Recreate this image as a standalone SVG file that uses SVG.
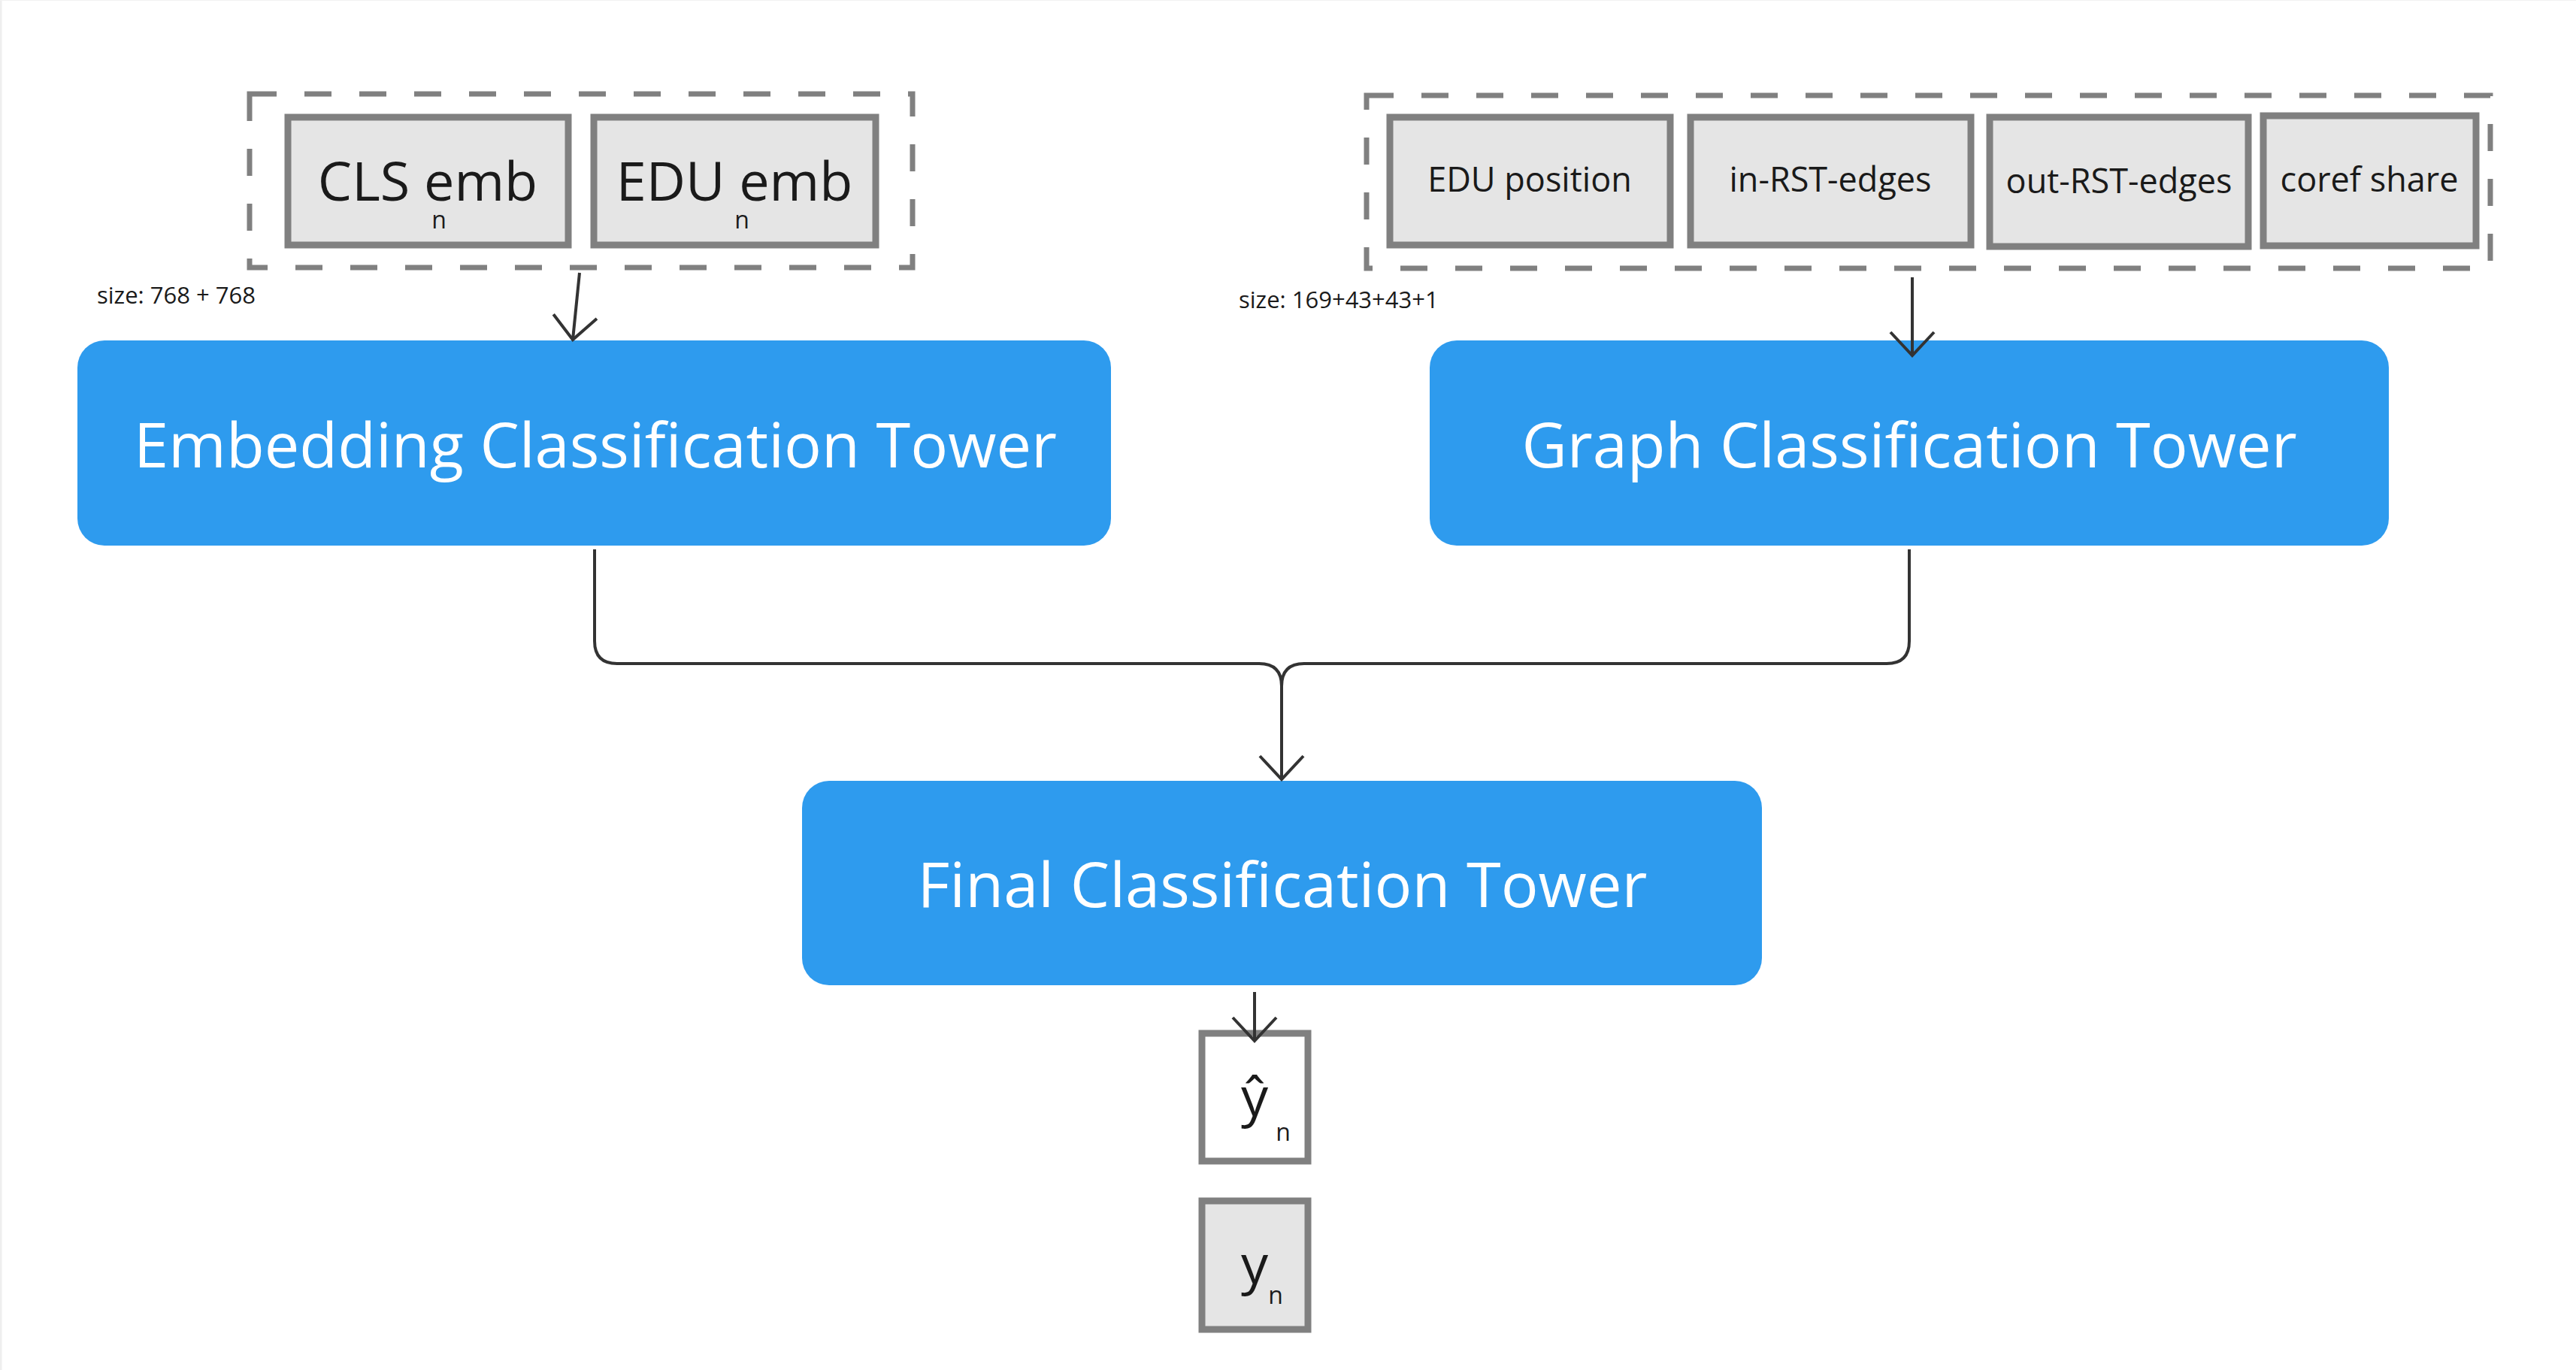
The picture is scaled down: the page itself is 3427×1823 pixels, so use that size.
<svg xmlns="http://www.w3.org/2000/svg" width="3427" height="1823" viewBox="0 0 3427 1823">
<style>
  .feat { fill: #e5e5e5; stroke: #808080; stroke-width: 9; }
  .dash { fill: none; stroke: #808080; stroke-width: 7; stroke-dasharray: 36 37; }
  .tower { fill: #2e9bee; }
  .tt { font-family: 'Open Sans', 'Noto Sans', sans-serif; fill: #ffffff; font-size: 83px; text-anchor: middle; }
  .t { font-family: 'Open Sans', 'Noto Sans', sans-serif; fill: #1a1a1a; text-anchor: middle; }
  .lbl { font-family: 'Open Sans', 'Noto Sans', sans-serif; fill: #1a1a1a; font-size: 31px; }
  .conn { fill: none; stroke: #333333; stroke-width: 4; }
</style>
<defs>
  <marker id="arr" markerUnits="userSpaceOnUse" markerWidth="80" markerHeight="80" viewBox="-40 -40 80 80" refX="0" refY="0" orient="auto" overflow="visible">
    <path d="M-31,-29 L0,0 L-31,29" fill="none" stroke="#333333" stroke-width="4"/>
  </marker>
</defs>
<rect x="0" y="0" width="3427" height="1823" fill="#ffffff"/>
<line x1="1" y1="0" x2="1" y2="1823" stroke="#eeeeee" stroke-width="3"/>
<line x1="0" y1="0.5" x2="3427" y2="0.5" stroke="#f2f2f2" stroke-width="1"/>

<g id="emb-inputs">
  <rect class="dash" x="332" y="125" width="882" height="231"/>
  <g id="cls-emb">
    <rect class="feat" x="383" y="156" width="373" height="170"/>
    <text class="t" x="569" y="267" font-size="72">CLS emb</text>
    <text class="t" x="584" y="304" font-size="32">n</text>
  </g>
  <g id="edu-emb">
    <rect class="feat" x="790" y="156" width="375" height="170"/>
    <text class="t" x="977" y="267" font-size="72">EDU emb</text>
    <text class="t" x="987" y="304" font-size="32">n</text>
  </g>
  <text class="lbl" x="129" y="404">size: 768 + 768</text>
</g>

<g id="graph-inputs">
  <rect class="dash" x="1818" y="127" width="1495" height="230"/>
  <g id="edu-position">
    <rect class="feat" x="1849" y="156" width="373" height="170"/>
    <text class="t" x="2035" y="255" font-size="45">EDU position</text>
  </g>
  <g id="in-rst-edges">
    <rect class="feat" x="2249" y="156" width="373" height="170"/>
    <text class="t" x="2435" y="255" font-size="45">in-RST-edges</text>
  </g>
  <g id="out-rst-edges">
    <rect class="feat" x="2647" y="156" width="344" height="172"/>
    <text class="t" x="2819" y="257" font-size="45">out-RST-edges</text>
  </g>
  <g id="coref-share">
    <rect class="feat" x="3011" y="154" width="283" height="173"/>
    <text class="t" x="3152" y="255" font-size="45">coref share</text>
  </g>
  <text class="lbl" x="1648" y="410">size: 169+43+43+1</text>
</g>

<g id="embedding-tower">
  <rect class="tower" x="103" y="453" width="1375" height="273" rx="36" ry="36"/>
  <text class="tt" x="792" y="622">Embedding Classification Tower</text>
</g>

<g id="graph-tower">
  <rect class="tower" x="1902" y="453" width="1276" height="273" rx="36" ry="36"/>
  <text class="tt" x="2540" y="622">Graph Classification Tower</text>
</g>

<g id="final-tower">
  <rect class="tower" x="1067" y="1039" width="1277" height="272" rx="36" ry="36"/>
  <text class="tt" x="1706" y="1207">Final Classification Tower</text>
</g>

<g id="y-hat">
  <rect x="1599" y="1375" width="141" height="170" fill="#ffffff" stroke="#808080" stroke-width="9"/>
  <text class="t" x="1669" y="1485" font-size="72">ŷ</text>
  <text class="t" x="1707" y="1518" font-size="32">n</text>
</g>

<g id="y-true">
  <rect class="feat" x="1599" y="1598" width="141" height="171"/>
  <text class="t" x="1669" y="1708" font-size="72">y</text>
  <text class="t" x="1697" y="1735" font-size="32">n</text>
</g>

<g id="connectors">
  <line class="conn" x1="771" y1="363" x2="762" y2="452" marker-end="url(#arr)"/>
  <line class="conn" x1="2544" y1="369" x2="2544" y2="473" marker-end="url(#arr)"/>
  <path class="conn" d="M791 731 V853 Q791 883 821 883 H1675 Q1705 883 1705 913 V1037" marker-end="url(#arr)"/>
  <path class="conn" d="M2540 731 V853 Q2540 883 2510 883 H1735 Q1705 883 1705 913"/>
  <line class="conn" x1="1669" y1="1320" x2="1669" y2="1385" marker-end="url(#arr)"/>
</g>
</svg>
